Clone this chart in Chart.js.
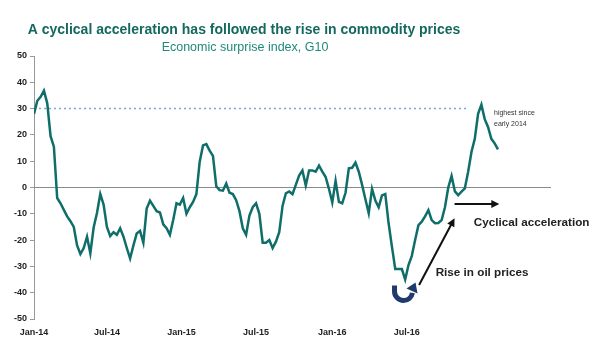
<!DOCTYPE html>
<html>
<head>
<meta charset="utf-8">
<script src="https://cdn.jsdelivr.net/npm/chart.js@4.4.1/dist/chart.umd.min.js"></script>
<style>
    html, body { margin: 0; padding: 0; background: #fff; }
    #wrap { width: 600px; height: 360px; }
</style>
</head>
<body>
<div id="wrap"><canvas id="chart" width="600" height="360"></canvas></div>
<script>
const titleText = 'A cyclical acceleration has followed the rise in commodity prices';
const subtitleText = 'Economic surprise index, G10';

// weekly readings, first week of Jan-14 onwards
const surprise = [
    28, 33, 34.5, 36.8, 32, 19.5, 15.5, -4, -6, -8.5,
    -11, -12.8, -15, -22, -25.3, -23, -18.7, -25, -15.2, -9.7,
    -2.5, -6.5, -15, -18.5, -17, -18, -15.5, -18.7, -23, -27,
    -22, -17.5, -16.5, -21, -8, -5, -7, -9, -9.5, -14,
    -15.5, -18, -12.4, -6, -6.5, -4, -10, -7.5, -5.5, -2.5,
    9.8, 16, 16.5, 14, 12, 0.5, -1, -1.2, 1.5, -2,
    -2.5, -4.8, -9, -15.5, -18, -10.7, -7.5, -6, -10, -21,
    -21, -20, -23, -20.6, -17, -7, -2.2, -1.5, -2.5, 1,
    4.5, 6.5, 0.8, 6.5, 6.5, 6, 8.3, 6, 4, -0.5,
    -5.7, 2.5, -5.5, -6, -2, 7.3, 7.5, 9.5, 6, 1,
    -4.5, -9.8, -0.5, -5, -7.5, -3, -2.5, -13.6, -22.5, -31,
    -31, -31, -35, -29.5, -26, -20, -14.3, -13, -11, -8.6,
    -12.4, -13.6, -13.5, -12.4, -7.5, 0, 4.4, -1.5, -2.9, -1.6,
    -0.3, 6, 13.5, 18.5, 28, 31.5, 26, 23, 18.5, 16.8, 14.5
];

const xTickLabels = ['Jan-14', 'Jul-14', 'Jan-15', 'Jul-15', 'Jan-16', 'Jul-16'];
const xTickWeeks = [0, 22, 44.5, 67, 90, 112.5];
const highLevel = 30;
const highLevelUntil = 131;
const lastWeek = 156;

const sans = "Arial, 'Liberation Sans', sans-serif";
Chart.defaults.font.family = sans;

const annotations = {
    id: 'annotations',
    afterDraw(chart) {
        const { ctx, scales: { x, y } } = chart;
        const px = w => x.getPixelForValue(w);
        const py = v => y.getPixelForValue(v);

        // title and subtitle
        ctx.save();
        ctx.textAlign = 'center';
        ctx.textBaseline = 'middle';
        ctx.fillStyle = '#14695f';
        ctx.font = 'bold 14px ' + sans;
        ctx.fillText(titleText, 244, 30);
        ctx.fillStyle = '#1f8a7a';
        ctx.font = '12.5px ' + sans;
        ctx.fillText(subtitleText, 245, 48);

        // note on the recent high
        ctx.textAlign = 'left';
        ctx.fillStyle = '#333';
        ctx.font = '7px ' + sans;
        ctx.fillText('highest since', px(138.8), py(28.3));
        ctx.fillText('early 2014', px(138.8), py(24.1));

        ctx.fillStyle = '#222';
        ctx.font = 'bold 11.7px ' + sans;
        ctx.fillText('Cyclical acceleration', px(132.7), py(-13.4));
        ctx.fillText('Rise in oil prices', px(121.2), py(-32.6));

        function arrow(x0, y0, x1, y1) {
            const a = Math.atan2(y1 - y0, x1 - x0);
            ctx.strokeStyle = '#111';
            ctx.fillStyle = '#111';
            ctx.lineWidth = 2;
            ctx.beginPath();
            ctx.moveTo(x0, y0);
            ctx.lineTo(x1 - 6 * Math.cos(a), y1 - 6 * Math.sin(a));
            ctx.stroke();
            ctx.beginPath();
            ctx.moveTo(x1, y1);
            ctx.lineTo(x1 - 8 * Math.cos(a) + 4 * Math.sin(a), y1 - 8 * Math.sin(a) - 4 * Math.cos(a));
            ctx.lineTo(x1 - 8 * Math.cos(a) - 4 * Math.sin(a), y1 - 8 * Math.sin(a) + 4 * Math.cos(a));
            ctx.closePath();
            ctx.fill();
        }
        arrow(px(126.9), py(-6.3), px(140.4), py(-6.3));
        arrow(px(116.2), py(-37.1), px(126.9), py(-11.7));

        // the turn in oil: U-shaped blue arrow
        const cx = px(111.5), cy = py(-39.5);
        ctx.strokeStyle = '#1f3a6b';
        ctx.fillStyle = '#1f3a6b';
        ctx.lineWidth = 5;
        ctx.beginPath();
        ctx.moveTo(cx - 9, cy - 6);
        ctx.arc(cx, cy, 9, Math.PI, Math.PI * 0.05, true);
        ctx.stroke();
        ctx.beginPath();
        ctx.moveTo(cx + 12, cy - 9);
        ctx.lineTo(cx + 3, cy - 3);
        ctx.lineTo(cx + 14, cy + 2);
        ctx.closePath();
        ctx.fill();
        ctx.restore();
    }
};

new Chart(document.getElementById('chart'), {
    type: 'line',
    data: {
        datasets: [
            {
                label: 'Economic surprise index, G10',
                data: surprise.map((v, i) => ({ x: i, y: v })),
                borderColor: '#0f6e6a',
                borderWidth: 2.5,
                pointRadius: 0,
                tension: 0,
                order: 1
            },
            {
                label: 'zero',
                data: [{ x: 0, y: 0 }, { x: lastWeek, y: 0 }],
                borderColor: '#8a8a8a',
                borderWidth: 1.2,
                pointRadius: 0,
                order: 3
            },
            {
                label: 'high',
                data: [{ x: 0, y: highLevel }, { x: highLevelUntil, y: highLevel }],
                borderColor: '#7ea6d6',
                borderWidth: 1.5,
                borderDash: [2, 3],
                pointRadius: 0,
                order: 2
            }
        ]
    },
    options: {
        responsive: false,
        animation: false,
        layout: { padding: { top: 56, right: 49, left: 0, bottom: 0 } },
        plugins: {
            legend: { display: false },
            tooltip: { enabled: false }
        },
        scales: {
            x: {
                type: 'linear',
                min: 0,
                max: lastWeek,
                grid: { display: false },
                border: { display: false },
                afterBuildTicks: scale => {
                    scale.ticks = xTickWeeks.map(v => ({ value: v }));
                },
                afterFit: scale => { scale.height = 41; },
                ticks: {
                    padding: 0,
                    autoSkip: false,
                    maxRotation: 0,
                    color: '#222',
                    font: { size: 9, weight: 'bold' },
                    callback: (value, index) => xTickLabels[index]
                }
            },
            y: {
                min: -50,
                max: 50,
                grid: { drawOnChartArea: false, drawTicks: true, tickLength: 4, color: '#999' },
                border: { display: true, color: '#999' },
                afterFit: scale => { scale.width = 34; },
                ticks: {
                    stepSize: 10,
                    padding: 3,
                    color: '#222',
                    font: { size: 9, weight: 'bold' }
                }
            }
        }
    },
    plugins: [annotations]
});
</script>
</body>
</html>
